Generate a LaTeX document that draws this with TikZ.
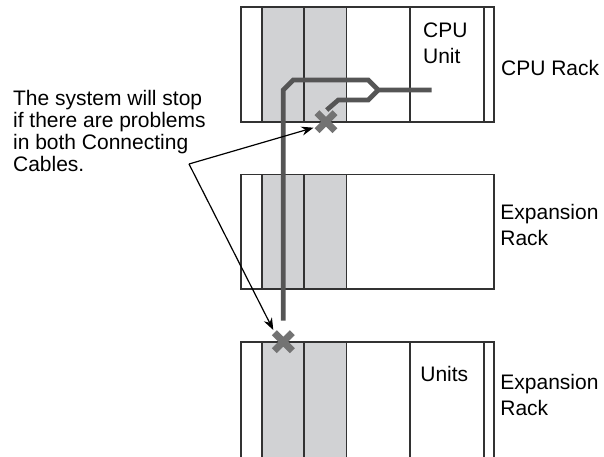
\documentclass[tikz,border=0pt]{standalone}
\usepackage{fontspec}
\setmainfont{Liberation Sans}
\usetikzlibrary{arrows.meta}
\definecolor{slotgray}{RGB}{209,210,212}
\definecolor{linegray}{RGB}{50,50,50}
\definecolor{cablegray}{RGB}{85,85,85}
\definecolor{xgray}{RGB}{115,115,115}

\begin{document}
\begin{tikzpicture}[
  x=0.5pt, y=-0.5pt,
  font=\fontsize{10.5}{12.6}\selectfont,
  rack/.style={draw=linegray, line width=0.65pt},
  slot/.style={rack, fill=slotgray},
  cable/.style={draw=cablegray, line width=2.35pt},
  cross/.style={draw=xgray, line width=3.5pt},
  lab/.style={inner sep=0pt, align=left, anchor=base west},
  arr/.style={-{Stealth[length=6pt, width=4.5pt]}, line width=0.6pt},
]
\clip (0,0) rectangle (604,456);

% CPU Rack
\draw[slot] (262,7) rectangle (304,122);
\draw[slot] (304,7) rectangle (346.7,122);
\draw[rack] (241,7) rectangle (494,122);
\draw[rack] (410,7) -- (410,122) (484,7) -- (484,122);

% first Expansion Rack
\draw[slot] (262,174.3) rectangle (304,289);
\draw[slot] (304,174.3) rectangle (346.7,289);
\draw[rack] (241,174.3) rectangle (494,289);

% second Expansion Rack (cut off at the bottom)
\draw[slot] (262,342) rectangle (304,470);
\draw[slot] (304,342) rectangle (346.7,470);
\draw[rack] (241,470) -- (241,342) -- (494,342) -- (494,470);
\draw[rack] (410,342) -- (410,470) (484,342) -- (484,470);

% Connecting Cables
\draw[cable] (283.3,320.7) -- (283.3,90) -- (293.3,80) -- (368.3,80)
  -- (378.3,90) -- (431.7,90);
\draw[cable] (378.3,90) -- (368.3,100) -- (338.3,100) -- (326.7,110);

% break marks
\coordinate (xtop) at (326,121.7);
\coordinate (xbot) at (283.3,341.7);
\draw[cross] ([shift={(-9,-9)}]xtop) -- ([shift={(9,9)}]xtop)
  ([shift={(-9,9)}]xtop) -- ([shift={(9,-9)}]xtop);
\draw[cross] ([shift={(-9,-9)}]xbot) -- ([shift={(9,9)}]xbot)
  ([shift={(-9,9)}]xbot) -- ([shift={(9,-9)}]xbot);

% labels (base = last line)
\node[lab] (cpuunit) at (422.7,63) {CPU\\Unit};
\node[lab] (units) at (420,381.7) {Units};
\node[lab] (cpurack) at (500.7,75) {CPU Rack};
\node[lab] (exprack) at (500,245) {Expansion\\Rack};
\node[lab] (exprack2) at (500,415) {Expansion\\Rack};
\node[lab, font=\fontsize{10.5}{11}\selectfont] (note) at (12.7,171.7)
  {The system will stop\\if there are problems\\in both Connecting\\Cables.};

% pointers
\coordinate (meet) at (189,164);
\coordinate (tiptop) at ([shift={(-12.5,6)}]xtop);
\coordinate (tipbot) at ([shift={(-10,-11.7)}]xbot);
\draw[arr] (meet) -- (tiptop);
\draw[arr] (meet) -- (tipbot);
\end{tikzpicture}
\end{document}
